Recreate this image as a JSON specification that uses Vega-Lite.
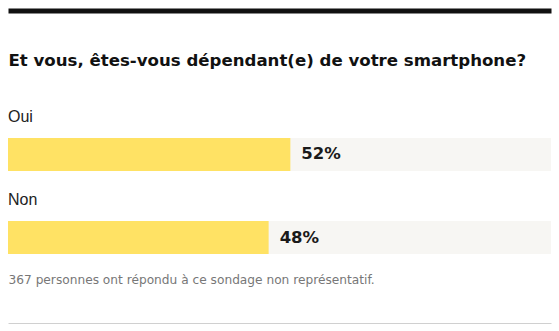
{
  "$schema": "https://vega.github.io/schema/vega-lite/v6.json",
  "width": 543,
  "height": 192,
  "autosize": {"type": "none"},
  "padding": {"left": 8, "right": 8, "top": 100, "bottom": 39},
  "background": "white",
  "config": {"view": {"stroke": null}, "font": "Liberation Sans"},
  "data": {"values": [
    {"reponse": "Oui", "pct": 0.52},
    {"reponse": "Non", "pct": 0.48}
  ]},
  "encoding": {
    "y": {"field": "reponse", "type": "nominal", "sort": ["Oui", "Non"], "axis": null,
          "scale": {"paddingInner": 0.6024, "paddingOuter": 0.4578}}
  },
  "layer": [
    {
      "mark": {"type": "bar", "color": "#f7f6f3"},
      "encoding": {
        "x": {"datum": 1, "type": "quantitative", "scale": {"domain": [0, 1], "nice": false},
              "axis": {"orient": "top", "offset": 89.5, "domain": true, "domainColor": "#111111", "domainWidth": 5,
                       "ticks": false, "labels": false, "grid": false,
                       "title": "Et vous, êtes-vous dépendant(e) de votre smartphone?",
                       "titleX": 0, "titleY": 55, "titleAlign": "left", "titleAnchor": "start", "titleBaseline": "alphabetic",
                       "titleFontSize": 16.6, "titleFontWeight": "bold", "titleColor": "#111111", "titleFont": "DejaVu Sans"}}
      }
    },
    {
      "mark": {"type": "bar", "color": "#ffe264"},
      "encoding": {
        "x": {"field": "pct", "type": "quantitative",
              "axis": {"orient": "bottom", "offset": 31, "domain": true, "domainColor": "#d0d0d0", "domainWidth": 1,
                       "ticks": false, "labels": false, "grid": false,
                       "title": "367 personnes ont répondu à ce sondage non représentatif.",
                       "titleX": 0, "titleY": -40, "titleAlign": "left", "titleAnchor": "start", "titleBaseline": "alphabetic",
                       "titleFontSize": 12.2, "titleFontWeight": "normal", "titleColor": "#777777", "titleFont": "DejaVu Sans"}}
      }
    },
    {
      "mark": {"type": "text", "align": "left", "baseline": "middle", "dx": 11, "font": "DejaVu Sans", "fontSize": 16.5, "fontWeight": "bold", "color": "#1a1a1a"},
      "encoding": {
        "x": {"field": "pct", "type": "quantitative", "axis": null},
        "text": {"field": "pct", "type": "quantitative", "format": ".0%"}
      }
    },
    {
      "mark": {"type": "text", "align": "left", "baseline": "middle", "yOffset": -37.5, "fontSize": 16, "color": "#222222"},
      "encoding": {
        "x": {"datum": 0, "type": "quantitative", "axis": null},
        "text": {"field": "reponse", "type": "nominal"}
      }
    }
  ],
  "resolve": {"axis": {"x": "independent"}}
}
